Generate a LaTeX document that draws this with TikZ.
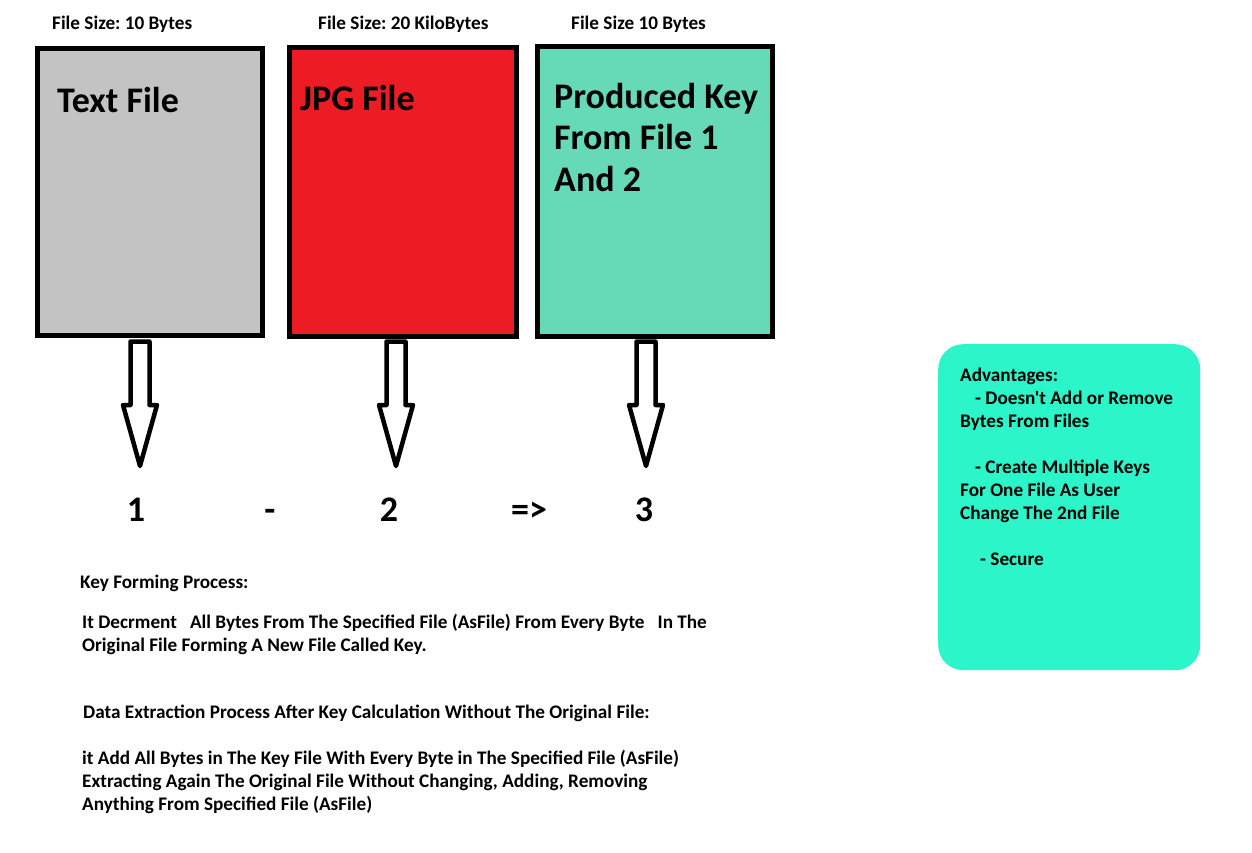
\documentclass[tikz,border=0pt]{standalone}
\usepackage{fontspec}
\setmainfont{Carlito}[Ligatures=TeXOff]
\frenchspacing
\usetikzlibrary{positioning}
\definecolor{textgray}{RGB}{195,195,195}
\definecolor{jpgred}{RGB}{237,28,36}
\definecolor{keygreen}{RGB}{102,217,183}
\definecolor{advcyan}{RGB}{44,245,201}

\begin{document}
\begin{tikzpicture}[x=1pt,y=-1pt,
    filebox/.style={draw,line width=5pt,anchor=north west,inner sep=0pt},
    sizelabel/.style={anchor=base west,inner sep=0pt,font=\fontsize{19.2}{23}\selectfont\bfseries},
    bigtext/.style={anchor=base west,inner sep=0pt,align=left,font=\fontsize{36}{41.5}\selectfont\bfseries},
    numtext/.style={anchor=base,inner sep=0pt,font=\fontsize{36}{41.5}\selectfont\bfseries},
    bodytext/.style={anchor=base west,inner sep=0pt,align=left,font=\fontsize{19.2}{23}\selectfont\bfseries},
    hollow/.style={draw,line width=4.5pt,line join=round,fill=white}]
  \useasboundingbox (0,0) rectangle (1252,852);
  % the three files
  \node[filebox,fill=textgray,minimum width=225pt,minimum height=287pt] (textfile) at (35,46) {};
  \node[filebox,fill=jpgred,minimum width=227pt,minimum height=289pt] (jpgfile) at (287,45) {};
  \node[filebox,fill=keygreen,minimum width=235pt,minimum height=290pt] (keyfile) at (535,44) {};
  \node[sizelabel] (size1) at (52,29.5) {File Size: 10 Bytes};
  \node[sizelabel] (size2) at (318,29.5) {File Size: 20 KiloBytes};
  \node[sizelabel] (size3) at (571,29.5) {File Size 10 Bytes};
  \node[bigtext] (textname) at (57,112) {Text File};
  \node[bigtext] (jpgname) at (300,110) {JPG File};
  \node[bigtext] (keyname) at (554,191) {Produced Key\\From File 1\\And 2};
  % block arrows
  \foreach \x in {140,396,646}
    \draw[hollow] (\x-9.5,341.5) -- (\x+9.5,341.5) -- (\x+9.5,405) -- (\x+17,405)
      -- (\x,466) -- (\x-17,405) -- (\x-9.5,405) -- cycle;
  % the formula
  \node[numtext] (one) at (136,521) {1};
  \node[numtext] (minus) at (270,521) {-};
  \node[numtext] (two) at (389,521) {2};
  \node[numtext] (gives) at (529,521) {=>};
  \node[numtext] (three) at (644,521) {3};
  % explanation
  \node[bodytext] (formhead) at (80,588) {Key Forming Process:};
  \node[bodytext] (formbody) at (82,651) {It Decrment\ \ \ All Bytes From The Specified File (AsFile) From Every Byte\ \ \ In The\\Original File Forming A New File Called Key.};
  \node[bodytext] (exthead) at (83,718) {Data Extraction Process After Key Calculation Without The Original File:};
  \node[bodytext] (extbody) at (82,810) {it Add All Bytes in The Key File With Every Byte in The Specified File (AsFile)\\Extracting Again The Original File Without Changing, Adding, Removing\\Anything From Specified File (AsFile)};
  % advantages
  \node[fill=advcyan,rounded corners=25pt,anchor=north west,inner sep=0pt,minimum width=262pt,minimum height=326pt] (advbox) at (938,344) {};
  \node[bodytext] (advtext) at (960,565) {Advantages:\\\hspace*{15pt}- Doesn't Add or Remove\\Bytes From Files\\[23pt]\hspace*{15pt}- Create Multiple Keys\\For One File As User\\Change The 2nd File\\[23pt]\hspace*{20pt}- Secure};
\end{tikzpicture}
\end{document}
